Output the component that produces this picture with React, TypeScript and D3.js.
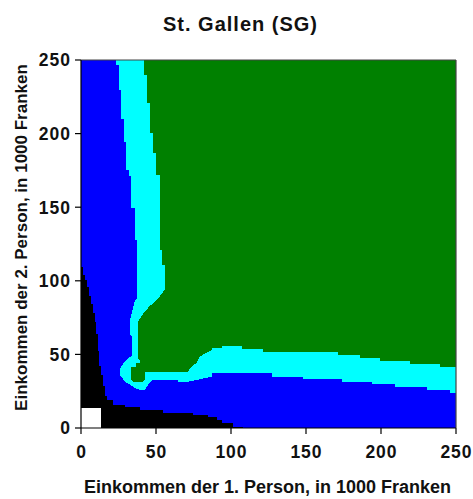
import React from 'react';
import * as d3 from 'd3';

type P = [number, number];

const titleText = 'St. Gallen (SG)';
const xLabel = 'Einkommen der 1. Person, in 1000 Franken';
const yLabel = 'Einkommen der 2. Person, in 1000 Franken';
const xTicks = [0, 50, 100, 150, 200, 250];
const yTicks = [0, 50, 100, 150, 200, 250];

// Region boundaries (x = income person 1, y = income person 2, in 1000 CHF)
const cyanRegion: P[] = [
  [23.5, 250], [23.5, 246.4], [25.1, 246.4], [25.1, 229.4], [26.9, 229.4], [26.9, 210.1],
  [28.7, 210.1], [28.7, 194.3], [30.2, 194.3], [30.2, 175.1], [31.8, 175.1], [31.8, 171],
  [33.5, 171], [33.5, 149.3], [35.8, 149.3], [35.8, 127.7], [37.5, 127.7], [37.5, 88.3],
  [36, 86.5], [35, 83], [33.8, 78], [32.6, 73.4], [32.6, 64], [33.8, 62], [33.8, 48.9],
  [31.5, 47.6], [28.5, 44.2], [26.5, 41.6], [26, 39], [26, 36], [27.1, 34.6], [29.3, 31.3],
  [32.5, 29.5], [35, 28], [37, 26.5], [40.2, 25.8], [42.7, 26.2], [43.8, 28], [45.5, 30.5],
  [47.5, 32.3], [52.7, 32.6], [64.7, 32.6], [64.7, 31.5], [71.3, 31.5], [79.3, 33.1],
  [87.1, 34.9], [87.1, 37.2], [127.1, 37.2], [127.1, 34.9], [148.2, 34.9], [148.2, 33.1],
  [173.8, 33.1], [173.8, 31], [193.8, 31], [193.8, 29.9], [209.3, 29.9], [209.3, 28.1],
  [230.5, 28.1], [230.5, 25.8], [246, 25.8], [246, 24], [250, 24], [250, 250],
];

const greenRegion: P[] = [
  [42, 250], [42, 239.8], [44.2, 239.8], [44.2, 220.6], [46, 220.6], [46, 200.2],
  [48, 200.2], [48, 186.6], [50, 186.6], [50, 171.9], [52.5, 171.9], [52.5, 120.9],
  [53.7, 120.9], [53.7, 110.7], [56, 110.7], [56, 93.8], [54.7, 92.5], [52.7, 89.7],
  [50, 86.5], [46, 83], [43.5, 80.2], [41.3, 77.4], [39.1, 74], [38, 72], [38, 47.6],
  [39.1, 46.2], [39.1, 44], [36.9, 44], [36.9, 41.6], [33.5, 41.6], [33.5, 32.5],
  [34.7, 31.5], [41.3, 31.5], [42.5, 32.6], [42.5, 38.2], [71.3, 38.2], [73.5, 41.6],
  [76.9, 44], [79.1, 48.4], [82.5, 50.7], [84.7, 51.8], [87.1, 53], [87.1, 54.1],
  [93.8, 54.1], [93.8, 55.7], [107.1, 55.7], [107.1, 53.5], [121.5, 53.5], [121.5, 51.8],
  [171.5, 51.8], [171.5, 49.6], [186, 49.6], [186, 47.4], [199.3, 47.4], [199.3, 45.5],
  [219.3, 45.5], [219.3, 43.3], [239.3, 43.3], [239.3, 41.2], [250, 41.2], [250, 250],
];

const blackRegion: P[] = [
  [0, 109.5], [1.3, 109.5], [1.3, 104], [2.5, 104], [2.5, 100.5], [3.7, 100.5], [3.7, 96],
  [5, 96], [5, 90], [6.7, 90], [6.7, 84], [8.2, 84], [8.2, 78], [9.3, 78], [9.3, 72],
  [10, 72], [10, 64], [11.5, 64], [11.5, 52], [12.3, 52], [12.3, 42], [13, 42], [13, 36],
  [14.8, 36], [14.8, 28.5], [15.9, 28.5], [15.9, 22], [17.1, 22], [17.1, 19], [21.3, 19],
  [21.3, 15.6], [29.3, 15.6], [29.3, 14.5], [39.3, 14.5], [39.3, 12.2], [54.7, 12.2],
  [54.7, 10], [74.7, 10], [74.7, 8.8], [84.7, 8.8], [84.7, 7.7], [90.5, 7.7], [90.5, 5.4],
  [93.8, 5.4], [93.8, 3.2], [101.5, 3.2], [101.5, 0.9], [108.2, 0.9], [108.2, 0], [0, 0],
];

const whiteRegion: P[] = [[0, 0], [13.3, 0], [13.3, 13.4], [0, 13.4]];

const FONT = '"Liberation Sans", Arial, Helvetica, sans-serif';

export default function App() {
  const W = 473;
  const H = 499;
  const x = d3.scaleLinear().domain([0, 250]).range([81, 456]);
  const y = d3.scaleLinear().domain([0, 250]).range([428, 60]);
  const line = d3.line<P>().x((d) => x(d[0])).y((d) => y(d[1]));
  const path = (pts: P[]) => (line(pts) || '') + 'Z';

  return (
    <svg
      width={W}
      height={H}
      viewBox={`0 0 ${W} ${H}`}
      style={{ position: 'absolute', left: 0, top: 0, background: '#fff' }}
      fontFamily={FONT}
    >
      <rect x={0} y={0} width={W} height={H} fill="#fff" />
      <rect
        x={x(0)}
        y={y(250)}
        width={x(250) - x(0)}
        height={y(0) - y(250)}
        fill="#0000ff"
      />
      <path d={path(cyanRegion)} fill="#00ffff" shapeRendering="crispEdges" />
      <path d={path(greenRegion)} fill="#008000" shapeRendering="crispEdges" />
      <path d={path(blackRegion)} fill="#000000" shapeRendering="crispEdges" />
      <path d={path(whiteRegion)} fill="#ffffff" shapeRendering="crispEdges" />

      {/* frame */}
      <line x1={x(0)} x2={x(250)} y1={y(250)} y2={y(250)} stroke="#444" strokeWidth={1.2} />
      <line x1={x(250)} x2={x(250)} y1={y(250)} y2={y(0)} stroke="#444" strokeWidth={1.2} />
      <line x1={x(0)} x2={x(0)} y1={y(250)} y2={y(0)} stroke="#000" strokeWidth={1.2} />
      <line x1={x(0)} x2={x(250)} y1={y(0)} y2={y(0)} stroke="#000" strokeWidth={1.2} />

      {/* y ticks */}
      {yTicks.map((t) => (
        <g key={'y' + t}>
          <line x1={x(0) - 6} x2={x(0)} y1={y(t)} y2={y(t)} stroke="#000" strokeWidth={1.2} />
          <text
            x={71}
            y={y(t)}
            dy="0.36em"
            textAnchor="end"
            fontSize={17.5}
            fontWeight="bold"
            letterSpacing={1}
            fill="#111"
          >
            {t}
          </text>
        </g>
      ))}

      {/* x ticks */}
      {xTicks.map((t) => (
        <g key={'x' + t}>
          <line x1={x(t)} x2={x(t)} y1={y(0)} y2={y(0) + 6} stroke="#000" strokeWidth={1.2} />
          <text
            x={x(t) + 0.5}
            y={457.5}
            textAnchor="middle"
            fontSize={17.5}
            fontWeight="bold"
            letterSpacing={1}
            fill="#111"
          >
            {t}
          </text>
        </g>
      ))}

      <text
        x={240.5}
        y={30.5}
        textAnchor="middle"
        fontSize={20}
        fontWeight="bold"
        letterSpacing={1}
        fill="#111"
      >
        {titleText}
      </text>
      <text x={267.5} y={493} textAnchor="middle" fontSize={18} fontWeight="bold" fill="#111">
        {xLabel}
      </text>
      <text
        transform={`translate(27,${237.5}) rotate(-90)`}
        textAnchor="middle"
        fontSize={17}
        fontWeight="bold"
        fill="#111"
      >
        {yLabel}
      </text>
    </svg>
  );
}
